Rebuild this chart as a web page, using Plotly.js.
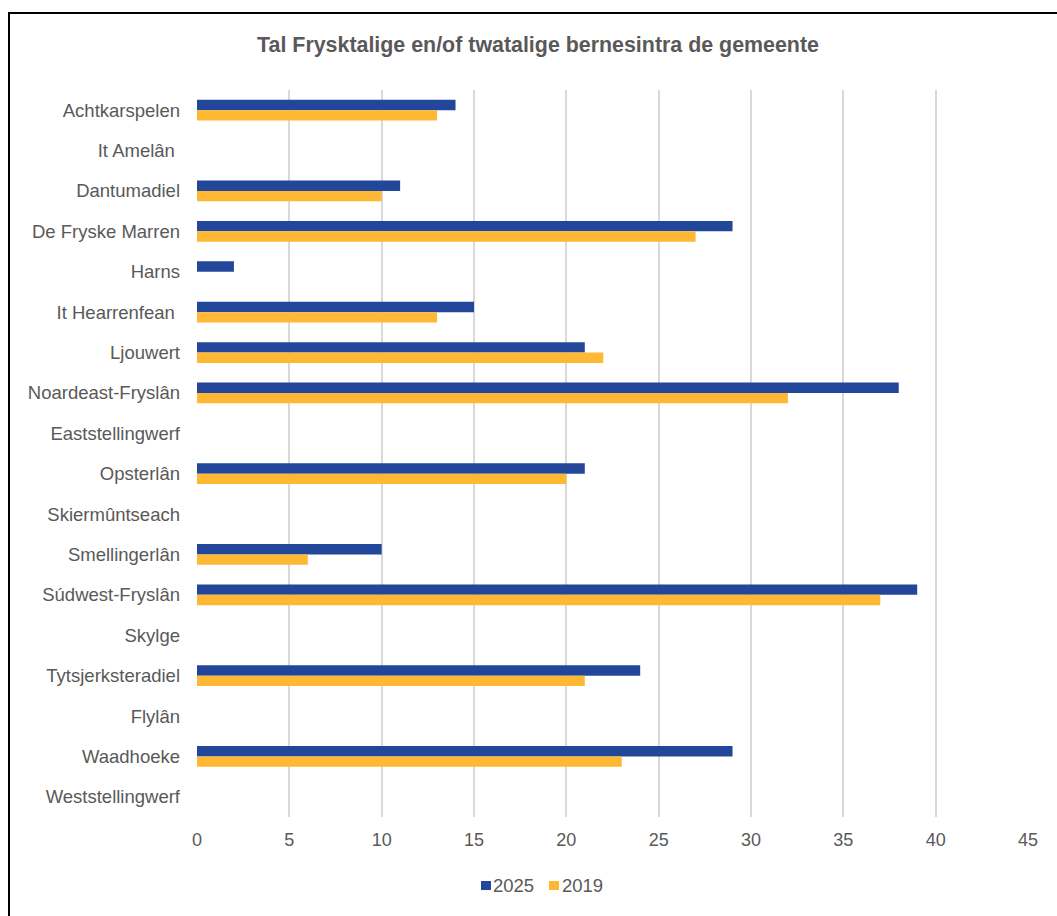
<!DOCTYPE html>
<html>
<head>
<meta charset="utf-8">
<script src="https://cdn.plot.ly/plotly-3.0.1.min.js"></script>
<style>
  html, body { margin: 0; padding: 0; background: #fff; overflow: hidden; }
  #chart { position: absolute; left: 0; top: 0; width: 1057px; height: 916px; }
  #frame { position: absolute; left: 8px; top: 12px; width: 1100px; height: 1000px;
           border: 2px solid #000; box-sizing: border-box; pointer-events: none; }
</style>
</head>
<body>
<div id="chart"></div>
<div id="frame"></div>
<script>
const categories = ["Achtkarspelen", "It Amelân", "Dantumadiel", "De Fryske Marren", "Harns",
  "It Hearrenfean", "Ljouwert", "Noardeast-Fryslân", "Eaststellingwerf", "Opsterlân",
  "Skiermûntseach", "Smellingerlân", "Súdwest-Fryslân", "Skylge", "Tytsjerksteradiel",
  "Flylân", "Waadhoeke", "Weststellingwerf"];
const tickLabels = ["Achtkarspelen", "It Amelân\u00a0", "Dantumadiel", "De Fryske Marren", "Harns",
  "It Hearrenfean\u00a0", "Ljouwert", "Noardeast-Fryslân", "Eaststellingwerf", "Opsterlân",
  "Skiermûntseach", "Smellingerlân", "Súdwest-Fryslân", "Skylge", "Tytsjerksteradiel",
  "Flylân", "Waadhoeke", "Weststellingwerf"];
const values2025 = [14, 0, 11, 29, 2, 15, 21, 38, 0, 21, 0, 10, 39, 0, 24, 0, 29, 0];
const values2019 = [13, 0, 10, 27, 0, 13, 22, 32, 0, 20, 0, 6, 37, 0, 21, 0, 23, 0];
const xTicks = [0, 5, 10, 15, 20, 25, 30, 35, 40, 45];
const seriesNames = ['2025', '2019'];
const seriesColors = ['#22479A', '#FFB833'];

const gray = '#595959';
const font = 'Liberation Sans, Arial, sans-serif';

// plot area in pixels
const W = 1057, H = 916;
const M = { l: 197, r: 29, t: 90, b: 99 };
const pw = W - M.l - M.r, ph = H - M.t - M.b;
const px = v => (v - M.l) / pw;          // pixel x -> paper x
const py = v => (H - M.b - v) / ph;      // pixel y -> paper y

const data = [
  { type: 'bar', orientation: 'h', name: seriesNames[0], y: categories, x: values2025,
    marker: { color: seriesColors[0] }, hoverinfo: 'x+y', showlegend: false },
  { type: 'bar', orientation: 'h', name: seriesNames[1], y: categories, x: values2019,
    marker: { color: seriesColors[1] }, hoverinfo: 'x+y', showlegend: false }
];

// compact legend (square key directly beside the label, as in the original)
const legendKeys = [
  { sq: [481, 491], txt: 491 },
  { sq: [549, 559], txt: 560 }
];
const shapes = legendKeys.map((k, i) => ({
  type: 'rect', xref: 'paper', yref: 'paper',
  x0: px(k.sq[0]), x1: px(k.sq[1]), y0: py(890), y1: py(881),
  fillcolor: seriesColors[i], line: { width: 0 }
}));
const annotations = legendKeys.map((k, i) => ({
  xref: 'paper', yref: 'paper', x: px(k.txt), y: py(885),
  xanchor: 'left', yanchor: 'middle', showarrow: false,
  text: seriesNames[i], font: { family: font, size: 18.5, color: gray }
}));

const layout = {
  width: W, height: H,
  paper_bgcolor: '#fff', plot_bgcolor: '#fff',
  margin: M,
  barmode: 'group', bargap: 0.485, bargroupgap: 0,
  title: { text: '<b>Tal Frysktalige en/of twatalige bernesintra de gemeente</b>',
    font: { family: font, size: 21.4, color: gray },
    x: 538 / W, xanchor: 'center', xref: 'container', y: 1 - 45 / H, yanchor: 'middle', yref: 'container' },
  xaxis: {
    range: [0, 45], tickvals: xTicks, ticktext: xTicks.map(String),
    showgrid: true, gridcolor: '#D9D9D9', gridwidth: 2,
    zeroline: false, showline: false, ticks: '',
    tickfont: { family: font, size: 18, color: gray }, ticklabelstandoff: 10
  },
  yaxis: {
    type: 'category', autorange: 'reversed',
    tickvals: categories, ticktext: tickLabels,
    showgrid: false, zeroline: false, showline: false, ticks: '',
    tickfont: { family: font, size: 18.5, color: gray }, ticklabelstandoff: 16
  },
  showlegend: false,
  shapes: shapes,
  annotations: annotations
};

Plotly.newPlot('chart', data, layout, { displayModeBar: false, staticPlot: true });
</script>
</body>
</html>
